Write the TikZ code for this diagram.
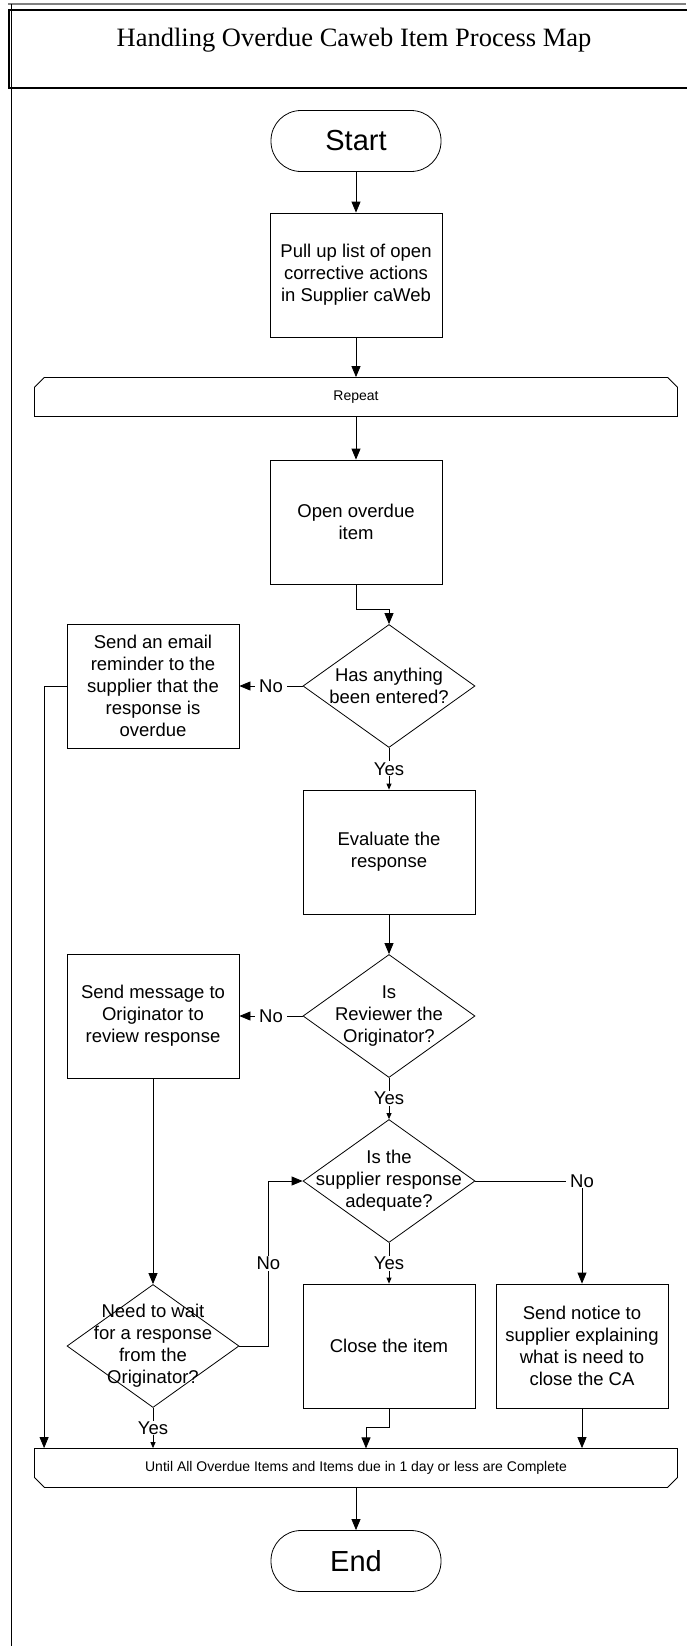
\documentclass[tikz,border=0pt]{standalone}
\usepackage{fontspec}
\setmainfont{Liberation Sans}
\newfontfamily\titlefont{Liberation Serif}
\usetikzlibrary{arrows.meta,shapes.geometric,shapes.misc}

\begin{document}
\begin{tikzpicture}[x=1pt, y=-1pt, line width=0.8pt,
  box/.style={draw, rectangle, minimum width=172pt, minimum height=124pt, align=center, font=\fontsize{18.5}{22}\selectfont},
  term/.style={draw, rounded corners=30pt, minimum width=170pt, minimum height=61pt, font=\fontsize{29}{33}\selectfont},
  dec/.style={draw, diamond, aspect=1.4, inner sep=-30pt, minimum width=172pt, minimum height=123pt, align=center, font=\fontsize{18.5}{22}\selectfont},
  limit/.style={draw, chamfered rectangle, chamfered rectangle xsep=8pt, minimum width=643pt, minimum height=39pt, inner sep=0pt, font=\fontsize{14}{16}\selectfont},
  arr/.style={-{Triangle[length=11pt,width=9pt]}},
  sarr/.style={-{Triangle[length=6pt,width=5pt]}},
  lbl/.style={fill=white, inner xsep=4pt, inner ysep=1pt, font=\fontsize{18.5}{22}\selectfont}]
 	\useasboundingbox (0,0) rectangle (686,1646);
 	\draw[gray, line width=2pt] (8,4) -- (686,4);
 	\draw (11,4) -- (11,1646);
 	\draw[line width=1.2pt] (9,10) rectangle (700,88);
 	\node[font=\titlefont\fontsize{26.5}{30}\selectfont] (title) at (354,40) {Handling Overdue Caweb Item Process Map};
 	\node[term] (start) at (356,141) {Start};
 	\node[box] (pull) at (356,275) {Pull up list of open\\corrective actions\\in Supplier caWeb};
 	\node[limit, chamfered rectangle corners={north west,north east}] (rep) at (356,397) {Repeat};
 	\node[box] (open) at (356,522) {Open overdue\\item};
 	\node[dec] (entered) at (389,686) {Has anything\\been entered?};
 	\node[box] (email) at (153,686) {Send an email\\reminder to the\\supplier that the\\response is\\overdue};
 	\node[box] (evaluate) at (389,852) {Evaluate the\\response};
 	\node[dec] (reviewer) at (389,1016) {Is\\Reviewer the\\Originator?};
 	\node[box] (message) at (153,1016) {Send message to\\Originator to\\review response};
 	\node[dec] (adequate) at (389,1181) {Is the\\supplier response\\adequate?};
 	\node[dec] (wait) at (153,1346) {Need to wait\\for a response\\from the\\Originator?};
 	\node[box] (close) at (389,1346) {Close the item};
 	\node[box] (notice) at (582,1346) {Send notice to\\supplier explaining\\what is need to\\close the CA};
 	\node[limit, chamfered rectangle corners={south west,south east}] (until) at (356,1468) {Until All Overdue Items and Items due in 1 day or less are Complete};
 	\node[term] (stop) at (356,1561) {End};
 	\draw[arr] (start) -- (pull);
 	\draw[arr] (pull.south) -- (rep.north);
 	\draw[arr] (rep.south) -- (open.north);
 	\draw[arr] (open.south) -- ++(0,25) -| (entered.north);
 	\draw[arr] (entered) -- node[lbl]{No} (email);
 	\draw[arr] (email.west) -| ([xshift=10pt]until.north west);
 	\draw[sarr] (entered) -- node[lbl]{Yes} (evaluate);
 	\draw[arr] (evaluate) -- (reviewer);
 	\draw[arr] (reviewer) -- node[lbl]{No} (message);
 	\draw[sarr] (reviewer) -- node[lbl]{Yes} (adequate);
 	\draw[arr] (message) -- (wait);
 	\draw[arr] (adequate.east) -| node[lbl, pos=0.5]{No} (notice.north);
 	\draw[sarr] (adequate) -- node[lbl]{Yes} (close);
 	\draw[arr] (wait.east) -- ++(29,0) |- node[lbl, pos=0.25]{No} (adequate.west);
 	\draw[sarr] (wait.south) -- node[lbl]{Yes} (wait.south |- until.north);
 	\draw[arr] (close.south) -- ++(0,19) -| ++(-23,21);
 	\draw[arr] (notice.south) -- (notice.south |- until.north);
 	\draw[arr] (until.south) -- (stop.north);
\end{tikzpicture}
\end{document}
